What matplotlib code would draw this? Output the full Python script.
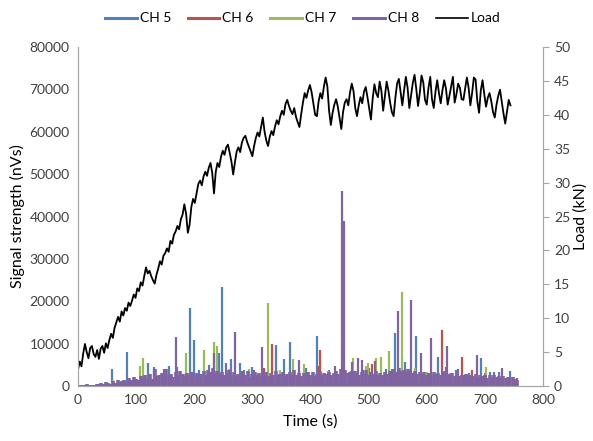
import numpy as np
import matplotlib
matplotlib.use("Agg")
import matplotlib.pyplot as plt
from matplotlib.lines import Line2D

plt.rcParams['font.family'] = ['Lato', 'DejaVu Sans']

# load (kN), one reading every 3 s
load_kn = [
    2.4, 3.6, 2.9, 4.8, 6.2, 5.0, 4.1, 5.6, 5.9, 4.7,
    4.3, 5.3, 4.0, 5.5, 5.9, 4.9, 6.3, 5.6, 6.8, 7.7,
    7.1, 8.6, 9.4, 10.2, 9.5, 11.0, 10.4, 11.5, 11.1, 12.3,
    11.8, 12.6, 13.5, 13.0, 14.4, 14.0, 15.3, 14.8, 16.2, 17.5,
    16.6, 17.0, 16.2, 15.6, 15.1, 16.4, 17.3, 18.4, 17.9, 19.2,
    19.6, 20.3, 19.8, 21.4, 21.0, 22.3, 22.8, 23.6, 23.1, 24.6,
    25.3, 26.8, 25.4, 22.6, 23.8, 26.4, 27.6, 27.0, 28.4, 29.8,
    30.3, 29.6, 30.9, 31.6, 31.0, 32.2, 32.9, 31.4, 28.4, 31.6,
    32.9, 32.3, 33.8, 34.7, 34.1, 35.2, 35.6, 34.4, 33.1, 31.2,
    33.0, 34.6, 35.2, 34.5, 35.9, 36.6, 36.9, 36.0, 35.3, 34.6,
    33.9, 35.4, 36.6, 37.4, 36.8, 38.2, 39.6, 37.5, 36.2, 35.4,
    36.8, 37.6, 37.0, 38.3, 39.2, 38.6, 39.8, 40.6, 40.0, 41.6,
    42.2, 41.3, 40.6, 40.1, 41.0, 39.7, 38.9, 38.2, 40.1, 41.8,
    43.2, 42.5, 43.6, 44.4, 43.3, 41.7, 40.0, 39.8, 42.0, 43.2,
    42.4, 44.1, 45.5, 44.2, 40.6, 38.5, 40.3, 41.5, 42.3, 41.2,
    39.6, 37.9, 40.4, 41.8, 42.3, 41.4, 43.3, 44.6, 43.5, 41.0,
    39.8, 41.4, 42.6, 41.7, 43.4, 44.1, 42.6, 41.0, 39.3, 42.4,
    44.5, 43.2, 42.6, 44.9, 43.5, 40.6, 42.8, 44.9, 43.6, 41.8,
    40.4, 39.8, 42.5, 44.6, 45.3, 43.4, 41.4, 43.6, 45.6, 44.0,
    41.0, 42.8, 44.7, 45.9, 43.8, 41.3, 43.2, 45.8, 44.8, 42.2,
    41.5, 44.0, 45.6, 42.3, 41.0, 43.4, 45.1, 43.2, 41.7, 43.6,
    45.1, 43.9, 41.5, 42.8, 44.2, 45.6, 41.8, 43.0, 44.6, 44.0,
    42.3, 42.2, 43.9, 45.5, 44.0, 41.4, 43.2, 45.5, 45.2, 42.0,
    40.3, 43.6, 45.1, 43.0, 41.2, 42.5, 43.2, 42.0, 40.4, 39.6,
    41.5, 42.8, 43.7, 41.9, 40.2, 38.7, 40.5, 42.2, 41.4,
]
load_t = np.arange(len(load_kn)) * 3

# CH 8 background level, every 4 s
ch8_base = [
    200, 300, 150, 250, 400, 200, 350, 300, 450, 500,
    600, 400, 900, 700, 500, 1100, 800, 1300, 900, 1200,
    1500, 1100, 1800, 1300, 2200, 1600, 1400, 2400, 1900, 2600,
    2000, 2800, 1700, 3900, 2300, 2600, 3000, 2100, 4000, 2500,
    2900, 2200, 3300, 2600, 3600, 2800, 2400, 3000, 2700, 3400,
    2500, 3100, 2200, 2900, 3500, 2600, 3800, 3200, 4200, 3000,
    3600, 2800, 3300, 2500, 3000, 3700, 2600, 3200, 2400, 2900,
    2300, 3100, 2700, 3500, 2200, 2800, 3300, 2600, 3000, 2400,
    2700, 3400, 2300, 3000, 2600, 3600, 2500, 2900, 3200, 2400,
    2800, 3300, 2500, 3700, 2600, 3000, 2400, 3100, 2700, 3400,
    2600, 3200, 2300, 2900, 3500, 2500, 3000, 2800, 3300, 2600,
    3100, 3600, 2900, 3900, 3300, 3700, 3000, 3400, 2800, 3500,
    3000, 2600, 3400, 2800, 3700, 2500, 3200, 2900, 3500, 2700,
    3000, 2600, 3300, 2800, 3600, 3100, 3900, 3400, 4300, 3600,
    3800, 3200, 4100, 3500, 3000, 3600, 2800, 3300, 2900, 3400,
    2700, 3100, 2600, 3300, 2800, 3000, 2500, 3200, 3500, 2900,
    2600, 3100, 2400, 2800, 2300, 2700, 2500, 2900, 2200, 2600,
    2400, 2800, 2100, 2600, 2300, 2700, 2000, 2500, 2200, 2600,
    2100, 2400, 1900, 2300, 2000, 2200, 1800, 2100, 1700, 1500,
]
ch8_base_t = np.arange(len(ch8_base)) * 4

# peaks per channel: time (s), signal (nVs)
ch5_t = [58, 85, 120, 130, 157, 170, 193, 200, 208, 225, 243, 248, 263, 278, 286,
         300, 320, 341, 354, 365, 392, 412, 432, 470, 500, 530, 545, 562, 581,
         619, 650, 672, 694, 708, 725, 743]
ch5_v = [4000, 8100, 5400, 4600, 4700, 4500, 18300, 10800, 3800, 5000, 7800, 23300,
         6300, 5500, 3700, 4500, 4000, 9600, 6400, 10500, 4300, 11900, 3700, 3500,
         4200, 4000, 12600, 5600, 11800, 6800, 3800, 3000, 6500, 3300, 3200, 3500]

ch6_t = [282, 320, 334, 380, 415, 417, 490, 505, 540, 600, 626, 660, 670, 677,
         700, 755]
ch6_v = [3600, 4200, 9800, 3500, 4800, 8500, 3800, 5100, 3500, 3000, 13200, 6800,
         2500, 3700, 3000, 2000]

ch7_t = [60, 107, 111, 150, 186, 217, 234, 240, 260, 295, 327, 348, 370, 389, 430,
         465, 473, 495, 499, 512, 522, 535, 557, 580, 600, 640, 702]
ch7_v = [1500, 4700, 6600, 3500, 7700, 8500, 10500, 9400, 4000, 3900, 19500, 3700,
         6300, 5100, 3500, 3000, 6600, 4800, 5500, 6700, 6900, 8200, 22100, 4200,
         3200, 3000, 4400]

ch8_t = [131, 148, 168, 234, 255, 270, 303, 316, 381, 442, 454, 457, 471, 481, 488,
         511, 540, 551, 573, 590, 607, 633, 635, 653, 686, 716, 729]
ch8_v = [3900, 4000, 11600, 7800, 5500, 12700, 3700, 9100, 6100, 4800, 46000, 39000,
         5600, 6500, 6200, 5800, 4000, 17700, 20300, 7900, 11400, 4400, 9400, 4000,
         7400, 3300, 4300]

names = ['CH 5', 'CH 6', 'CH 7', 'CH 8', 'Load']
colors = ['#4F81BD', '#C0504D', '#9BBB59', '#8064A2', '#000000']

fig = plt.figure(figsize=(5.93, 4.41), dpi=100)
ax = fig.add_axes([0.1315, 0.1247, 0.7842, 0.7687])
ax2 = ax.twinx()

ax.vlines(ch5_t, 0, ch5_v, color=colors[0], lw=1.6)
ax.vlines(ch6_t, 0, ch6_v, color=colors[1], lw=1.6)
ax.vlines(ch7_t, 0, ch7_v, color=colors[2], lw=1.6)
ax.vlines(ch8_base_t, 0, ch8_base, color=colors[3], lw=2.6)
ax.vlines(ch8_t, 0, ch8_v, color=colors[3], lw=1.6)

ax2.plot(load_t, load_kn, color='black', lw=1.3)

ax.set_xlim(0, 800)
ax.set_ylim(0, 80000)
ax2.set_ylim(0, 50)
ax.set_xticks(np.arange(0, 801, 100))
ax.set_yticks(np.arange(0, 80001, 10000))
ax2.set_yticks(np.arange(0, 51, 5))

grey = '#A6A6A6'
for a in (ax, ax2):
    a.spines['top'].set_visible(False)
    a.spines['left'].set_color(grey)
    a.spines['right'].set_color(grey)
    a.spines['bottom'].set_color(grey)
ax.tick_params(axis='both', length=0, labelsize=10, labelcolor='#404040', pad=6)
ax2.tick_params(axis='y', length=4, color=grey, labelsize=10, labelcolor='#404040', pad=4)

ax.set_xlabel('Time (s)', fontsize=11.5, labelpad=6)
ax.set_ylabel('Signal strength (nVs)', fontsize=11.5, labelpad=3)
ax2.set_ylabel('Load (kN)', fontsize=11.5, labelpad=2)

handles = [Line2D([], [], color=c, lw=2.2 if n != 'Load' else 1.2) for n, c in zip(names, colors)]
fig.legend(handles, names, loc='upper center', bbox_to_anchor=(0.51, 1.0), ncol=5,
           frameon=False, fontsize=10, handlelength=2.3, handletextpad=0.2,
           columnspacing=1.2)

fig.savefig('out.png', dpi=100)
